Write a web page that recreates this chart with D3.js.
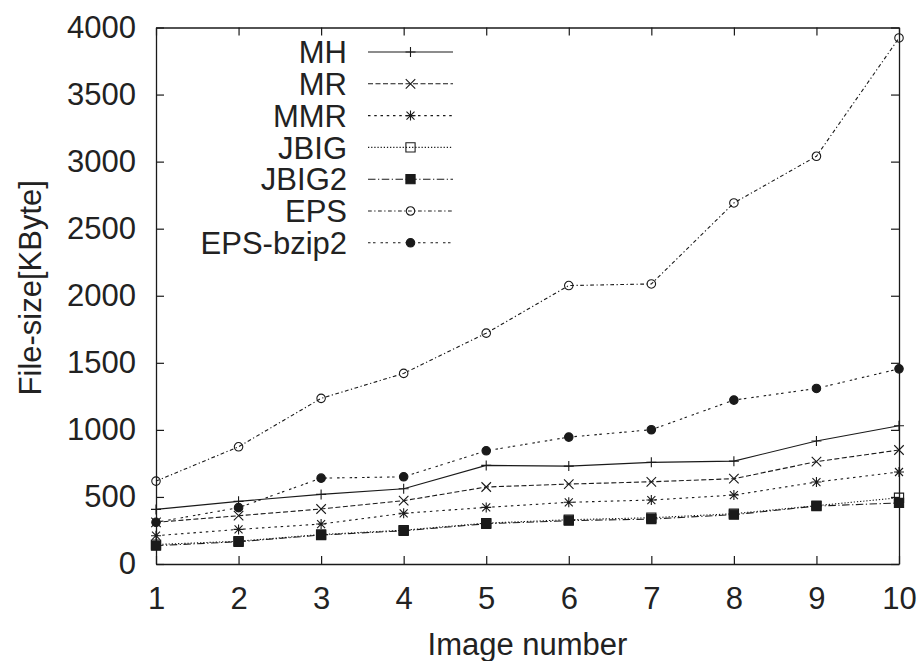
<!DOCTYPE html>
<html>
<head>
<meta charset="utf-8">
<script src="https://cdn.jsdelivr.net/npm/d3@7"></script>
<style>
  html, body { margin: 0; padding: 0; background: #fff; }
  svg { display: block; }
  text { font-family: "Liberation Sans", Arial, Helvetica, sans-serif; fill: #222; }
</style>
</head>
<body>
<svg id="chart" width="918" height="661"></svg>
<script>
// ---- data ----
const imageNumbers = [1, 2, 3, 4, 5, 6, 7, 8, 9, 10];
const seriesNames = ["MH", "MR", "MMR", "JBIG", "JBIG2", "EPS", "EPS-bzip2"];
const MH    = [407, 467, 519, 561, 735, 730, 758, 767, 917, 1031];
const MR    = [311, 360, 410, 472, 574, 596, 613, 636, 763, 850];
const MMR   = [211, 258, 298, 378, 422, 460, 477, 514, 611, 686];
const JBIG  = [145, 170, 220, 252, 305, 330, 345, 375, 435, 494];
const JBIG2 = [137, 166, 216, 248, 300, 323, 335, 368, 432, 455];
const EPS   = [618, 874, 1235, 1421, 1721, 2076, 2088, 2692, 3040, 3922];
const EPSbzip2 = [311, 420, 640, 650, 844, 946, 1001, 1222, 1309, 1455];
const yTicks = [0, 500, 1000, 1500, 2000, 2500, 3000, 3500, 4000];
const xTicks = [1, 2, 3, 4, 5, 6, 7, 8, 9, 10];
const xTitle = "Image number";
const yTitle = "File-size[KByte]";

const seriesValues = [MH, MR, MMR, JBIG, JBIG2, EPS, EPSbzip2];
const dashes = ["", "5,2.5", "2.5,3.75", "1.25,1.9", "7.5,2.5,1.25,2.5", "3.75,2.5,1.25,2.5", "2.5,2.5,2.5,5"];
const markers = ["plus", "times", "asterisk", "square", "squareFilled", "circle", "circleFilled"];

// ---- layout ----
const svg = d3.select("#chart");
const L = 156, R = 899, T = 27.5, B = 564;
const x = d3.scaleLinear().domain([1, 10]).range([L, R]);
const y = d3.scaleLinear().domain([0, 4000]).range([B, T]);
const ink = "#1a1a1a";
const fontSize = 31;

function markerPath(type, s) {
  const p = d3.path();
  if (type === "plus") {
    p.moveTo(-s, 0); p.lineTo(s, 0); p.moveTo(0, -s); p.lineTo(0, s);
  } else if (type === "times") {
    const d = s * 0.95;
    p.moveTo(-d, -d); p.lineTo(d, d); p.moveTo(-d, d); p.lineTo(d, -d);
  } else if (type === "asterisk") {
    p.moveTo(-s, 0); p.lineTo(s, 0); p.moveTo(0, -s); p.lineTo(0, s);
    const d = s * 0.8;
    p.moveTo(-d, -d); p.lineTo(d, d); p.moveTo(-d, d); p.lineTo(d, -d);
  } else if (type === "square" || type === "squareFilled") {
    p.rect(-s * 0.92, -s * 0.92, s * 1.84, s * 1.84);
  } else {
    p.arc(0, 0, s * 0.85, 0, 2 * Math.PI);
  }
  return p.toString();
}
function drawMarker(g, type, cx, cy) {
  const filled = type.endsWith("Filled");
  g.append("path")
    .attr("transform", `translate(${cx},${cy})`)
    .attr("d", markerPath(type, 5))
    .attr("fill", filled ? ink : "none")
    .attr("stroke", ink)
    .attr("stroke-width", 1.1);
}

// ---- axes ----
const axisG = svg.append("g");
const xAxisB = d3.axisBottom(x).tickValues(xTicks).tickSize(-8).tickSizeOuter(0).tickPadding(23).tickFormat(d3.format("d"));
const xAxisT = d3.axisTop(x).tickValues(xTicks).tickSize(-8).tickSizeOuter(0).tickFormat("");
const yAxisL = d3.axisLeft(y).tickValues(yTicks).tickSize(-8).tickSizeOuter(0).tickPadding(20).tickFormat(d3.format("d"));
const yAxisR = d3.axisRight(y).tickValues(yTicks).tickSize(-8).tickSizeOuter(0).tickFormat("");

[[xAxisB, `translate(0,${B})`], [xAxisT, `translate(0,${T})`], [yAxisL, `translate(${L},0)`], [yAxisR, `translate(${R},0)`]]
  .forEach(([ax, tr]) => {
    const g = axisG.append("g").attr("transform", tr).call(ax);
    g.select(".domain").attr("stroke", ink).attr("stroke-width", 1.3);
    g.selectAll(".tick line").attr("stroke", ink).attr("stroke-width", 1.2);
    g.selectAll(".tick text").attr("font-size", fontSize).attr("fill", "#222")
      .attr("font-family", "'Liberation Sans', Arial, sans-serif");
  });

// titles
svg.append("text").attr("x", (L + R) / 2).attr("y", 655)
  .attr("text-anchor", "middle").attr("font-size", fontSize).text(xTitle);
svg.append("text").attr("transform", `translate(41,${(T + B) / 2 - 8}) rotate(-90)`)
  .attr("text-anchor", "middle").attr("font-size", fontSize).text(yTitle);

// ---- series ----
const line = d3.line().x((d, i) => x(imageNumbers[i])).y(d => y(d));
const plotG = svg.append("g");
seriesValues.forEach((vals, k) => {
  plotG.append("path").datum(vals)
    .attr("d", line)
    .attr("fill", "none")
    .attr("stroke", ink)
    .attr("stroke-width", 1.1)
    .attr("stroke-dasharray", dashes[k] || null);
});
seriesValues.forEach((vals, k) => {
  vals.forEach((v, i) => drawMarker(plotG, markers[k], x(imageNumbers[i]), y(v)));
});

// ---- legend ----
const legG = svg.append("g");
const legY0 = 52, legStep = 31.8, legTextX = 347, legX1 = 368, legX2 = 453;
seriesNames.forEach((name, k) => {
  const cy = legY0 + k * legStep;
  legG.append("text").attr("x", legTextX).attr("y", cy).attr("dy", "0.36em")
    .attr("text-anchor", "end").attr("font-size", fontSize).text(name);
  legG.append("line").attr("x1", legX1).attr("x2", legX2).attr("y1", cy).attr("y2", cy)
    .attr("stroke", ink).attr("stroke-width", 1.1)
    .attr("stroke-dasharray", dashes[k] || null);
  drawMarker(legG, markers[k], (legX1 + legX2) / 2, cy);
});
</script>
</body>
</html>
